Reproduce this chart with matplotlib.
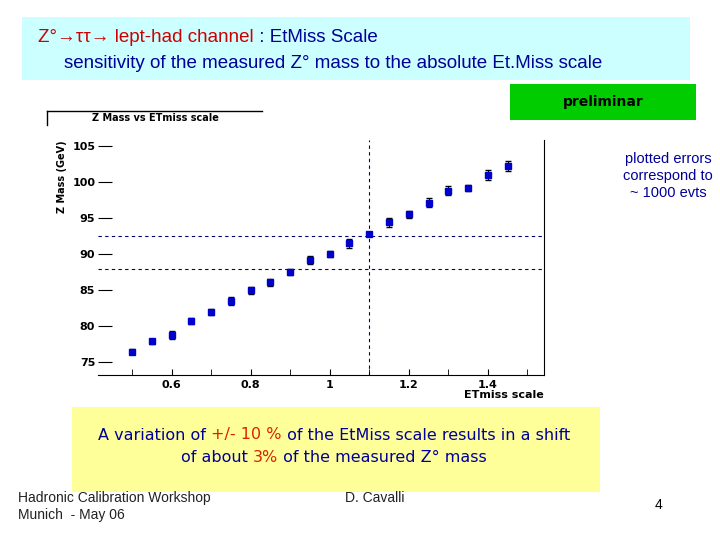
import matplotlib
matplotlib.use("Agg")
import matplotlib.pyplot as plt
from matplotlib.patches import Rectangle

scale = [0.50,0.55,0.60,0.65,0.70,0.75,0.80,0.85,0.90,0.95,1.00,1.05,1.10,1.15,1.20,1.25,1.30,1.35,1.40,1.45]
zmass = [76.5,77.9,78.8,80.7,82.0,83.5,85.0,86.1,87.5,89.2,90.0,91.5,92.8,94.4,95.5,97.1,98.8,99.1,101.0,102.2]
errs  = [0.4,0.4,0.5,0.4,0.4,0.5,0.5,0.5,0.4,0.6,0.4,0.6,0.3,0.6,0.5,0.6,0.6,0.4,0.7,0.7]
xtick_pos = [0.6,0.8,1.0,1.2,1.4]
xtick_lab = ["0.6","0.8","1","1.2","1.4"]
ytick_pos = [75,80,85,90,95,100,105]
vline_x = 1.1
hlines_y = [87.9, 92.5]

fig = plt.figure(figsize=(7.2,5.4), dpi=100)
W,H = 720,540
rend = fig.canvas.get_renderer()
def box(x0,y0,x1,y1,color):
    fig.patches.append(Rectangle((x0/W,1-y1/H),(x1-x0)/W,(y1-y0)/H,transform=fig.transFigure,facecolor=color,edgecolor='none',zorder=0))
def txt(x,y,s,**kw):
    return fig.text(x/W,1-y/H,s,**kw)
def segs(x,y,parts,center=False,**kw):
    ts=[txt(0,y,s,color=c,va='center',**kw) for s,c in parts]
    ws=[t.get_window_extent(rend).width for t in ts]
    if center: x = x - sum(ws)/2
    for t,w in zip(ts,ws):
        t.set_x(x/W); x+=w

box(22,17,690,80,'#ccffff')
box(510,84,696,120,'#00cc00')
box(72,407,600,492,'#ffff99')

tf = dict(fontsize=13.5, family=['Liberation Sans','DejaVu Sans'])
segs(38,38,[("Z°→ττ→ lept-had channel",'#cc0000'),(" : EtMiss Scale",'#000099')],**tf)
txt(64,63,"sensitivity of the measured Z° mass to the absolute Et.Miss scale",color='#000099',va='center',**tf)
txt(603,102,"preliminar",fontsize=10,fontweight='bold',ha='center',va='center')
txt(668,176,"plotted errors\ncorrespond to\n~ 1000 evts",color='#000099',fontsize=10.5,ha='center',va='center',family='Liberation Sans',linespacing=1.3)
bf = dict(fontsize=11.5, family='DejaVu Sans')
B,R='#000099','#dd2200'
segs(334,435,[("A variation of ",B),("+/- 10 %",R),(" of the EtMiss scale results in a shift",B)],center=True,**bf)
segs(334,458,[("of about ",B),("3%",R),(" of the measured Z° mass",B)],center=True,**bf)
txt(18,498,"Hadronic Calibration Workshop",fontsize=10,va='center',family='Liberation Sans',color='#222222')
txt(18,515,"Munich  - May 06",fontsize=10,va='center',family='Liberation Sans',color='#222222')
txt(345,498,"D. Cavalli",fontsize=10,va='center',family='Liberation Sans',color='#222222')
txt(655,505,"4",fontsize=10,va='center',family='Liberation Sans')

fig.add_artist(plt.Line2D([47/W,262/W],[1-111/H,1-111/H],color='k',lw=1))
fig.add_artist(plt.Line2D([47/W,47/W],[1-111/H,1-125/H],color='k',lw=1))
txt(155,118,"Z Mass vs ETmiss scale",fontsize=7,fontweight='bold',ha='center',va='center')

ax = fig.add_axes([98/W, 1-375/H, 446/W, 235/H])
ax.errorbar(scale,zmass,yerr=errs,fmt='s',color='#0000cc',ms=5,ecolor='k',elinewidth=0.8,capsize=2)
ax.set_xlim(0.414,1.542)
ax.set_ylim(73.25,105.8)
ax.axvline(vline_x,color='#000066',ls=(0,(3,3)),lw=0.8)
for y in hlines_y:
    ax.axhline(y,color='#000066',ls=(0,(3,3)),lw=0.8)
ax.spines['top'].set_visible(False)
ax.spines['left'].set_visible(False)
ax.set_xticks(xtick_pos)
ax.set_xticklabels(xtick_lab,fontsize=8,fontweight='bold')
ax.set_xticks([0.5,0.7,0.9,1.1,1.3,1.5],minor=True)
ax.set_yticks(ytick_pos)
ax.set_yticklabels([str(v) for v in ytick_pos],fontsize=8,fontweight='bold')
ax.tick_params(axis='y',length=10,direction='in',pad=2)
ax.tick_params(axis='x',which='both',length=4,direction='in')
ax.set_xlabel("ETmiss scale",fontsize=8,fontweight='bold',loc='right',labelpad=0)
ax.set_ylabel("Z Mass (GeV)",fontsize=7,fontweight='bold',loc='top')
fig.savefig("out.png",dpi=100,facecolor='white')
